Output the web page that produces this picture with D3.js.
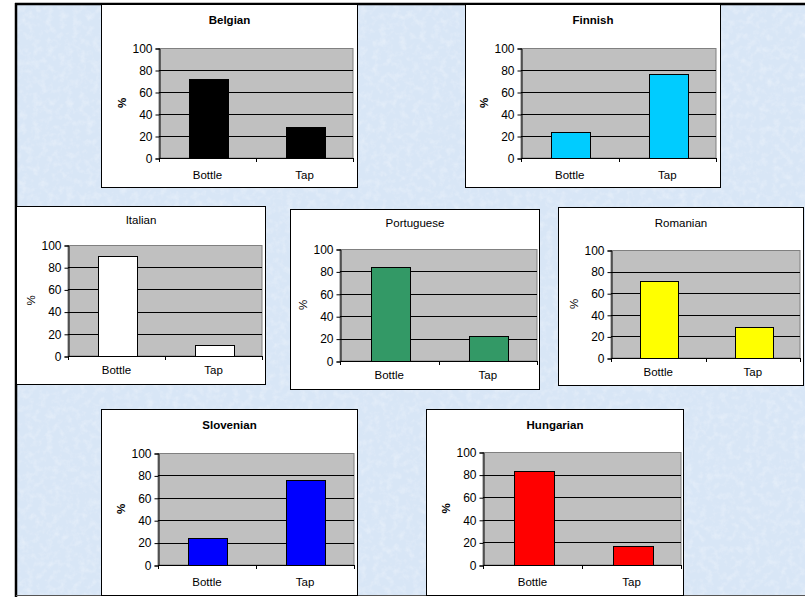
<!DOCTYPE html>
<html><head><meta charset="utf-8">
<script src="https://cdn.jsdelivr.net/npm/d3@7"></script>
<style>body{margin:0;background:#fff}svg{display:block}text{font-family:"Liberation Sans",Arial,sans-serif}</style>
</head><body><svg id="c" width="805" height="597"></svg>
<script>
// ---- data ----
const panelNames = ["Belgian","Finnish","Italian","Portuguese","Romanian","Slovenian","Hungarian"];
const categories = ["Bottle","Tap"];
const bottleValues = [72, 24, 90.4, 83.5, 71.5, 23.7, 83.4];
const tapValues    = [28, 76, 9.5, 22.3, 28.5, 76.3, 16.6];
const yTicks = [0, 20, 40, 60, 80, 100];
const barColors = ["#000000","#00ccff","#ffffff","#339966","#ffff00","#0000ff","#ff0000"];
const boldTitles = [true, true, false, false, false, true, true];

// ---- layout (positions only) ----
const boxes = [[101,4,358,188],[465,4,721,188],[16,206,266,385],[290,209,540,390],[558,207,804,386],[101,409,358,596],[426,409,684,596]];
const plots = [[159,48,353,158],[521,48,716,158],[68,245,262,356],[340,249,537,361],[611,250,800,358],[158,453,354,565],[483,452,681,565]];
const titleY = [20,20,220,223,223,425,425];

const svg = d3.select("#c");
const defs = svg.append("defs");
const f = defs.append("filter").attr("id","tex").attr("x",0).attr("y",0).attr("width","100%").attr("height","100%");
f.append("feTurbulence").attr("type","fractalNoise").attr("baseFrequency","0.15").attr("numOctaves",3).attr("seed",4);
f.append("feColorMatrix").attr("type","matrix").attr("values","0 0 0 0 1  0 0 0 0 1  0 0 0 0 1  0 0 0 1.4 -0.6");
svg.append("rect").attr("x",16).attr("y",4).attr("width",789).attr("height",592).attr("fill","#d8e6f6");
svg.append("rect").attr("x",16).attr("y",4).attr("width",789).attr("height",592).attr("filter","url(#tex)").attr("opacity",0.45);
// frame lines
svg.append("line").attr("x1",15).attr("x2",805).attr("y1",4).attr("y2",4).attr("stroke","#000").attr("stroke-width",2.5);
svg.append("line").attr("x1",16).attr("x2",16).attr("y1",3).attr("y2",597).attr("stroke","#000").attr("stroke-width",2.5);
svg.append("line").attr("x1",16).attr("x2",805).attr("y1",595.5).attr("y2",595.5).attr("stroke","#555").attr("stroke-width",1);

panelNames.forEach((name,i)=>{
  const [bx0,by0,bx1,by1] = boxes[i];
  const [px0,py0,px1,py1] = plots[i];
  const bold = boldTitles[i];
  const g = svg.append("g");
  g.append("rect").attr("x",bx0+0.5).attr("y",by0+0.5).attr("width",bx1-bx0-1).attr("height",by1-by0-1)
    .attr("fill","#fff").attr("stroke","#000").attr("stroke-width",1);
  const x = d3.scaleBand().domain(categories).range([px0,px1]).paddingInner(0.6).paddingOuter(0.3);
  const y = d3.scaleLinear().domain([0,100]).range([py1,py0]);
  // plot area
  g.append("rect").attr("x",px0).attr("y",py0+0.5).attr("width",px1-px0).attr("height",py1-py0-0.5)
    .attr("fill","#c0c0c0").attr("stroke","#808080").attr("stroke-width",1);
  // gridlines
  g.selectAll(".grid").data(yTicks.filter(t=>t>0 && t<100)).join("line")
    .attr("x1",px0).attr("x2",px1).attr("y1",d=>Math.round(y(d))+0.5).attr("y2",d=>Math.round(y(d))+0.5)
    .attr("stroke","#000").attr("stroke-width",1);
  // bars
  const vals = [bottleValues[i], tapValues[i]];
  g.selectAll(".bar").data(categories).join("rect")
    .attr("x",d=>Math.round(x(d))+1.5).attr("width",Math.round(x.bandwidth()))
    .attr("y",(d,j)=>Math.round(y(vals[j]))+0.5).attr("height",(d,j)=>Math.round(y(0))-Math.round(y(vals[j])))
    .attr("fill",barColors[i]).attr("stroke","#000").attr("stroke-width",1);
  // y axis
  const ya = g.append("g").attr("transform",`translate(${px0+0.5},0.5)`)
    .call(d3.axisLeft(y).tickValues(yTicks).tickSize(4).tickPadding(3));
  ya.select(".domain").attr("stroke","#000");
  ya.selectAll(".tick line").attr("stroke","#000");
  ya.selectAll("text").attr("font-size",12).attr("fill","#000").attr("font-family","Liberation Sans, Arial, sans-serif");
  // x axis
  const xa = g.append("g").attr("transform",`translate(0,${Math.round(py1)+0.5})`)
    .call(d3.axisBottom(x).tickSize(0).tickPadding(bold?12:9));
  xa.select(".domain").attr("stroke","#000").attr("d",`M${px0},0H${px1}`);
  xa.selectAll("text").attr("font-size",11.5).attr("fill","#000").attr("font-family","Liberation Sans, Arial, sans-serif");
  const bounds = [px0, (px0+px1)/2, px1];
  g.selectAll(".xt").data(bounds).join("line")
    .attr("x1",d=>Math.round(d)+0.5).attr("x2",d=>Math.round(d)+0.5)
    .attr("y1",Math.round(py1)).attr("y2",Math.round(py1)+4).attr("stroke","#000");
  // title
  g.append("text").attr("x",(bx0+bx1)/2).attr("y",titleY[i]).attr("dy","0.35em")
    .attr("text-anchor","middle").attr("font-size",11.5).attr("font-weight",bold?"bold":"normal").text(name);
  // y label
  g.append("text").attr("transform",`translate(${px0-37},${(py0+py1)/2}) rotate(-90)`).attr("dy","0.35em")
    .attr("text-anchor","middle").attr("font-size",11.5).attr("font-weight",bold?"bold":"normal").text("%");
});
</script></body></html>
